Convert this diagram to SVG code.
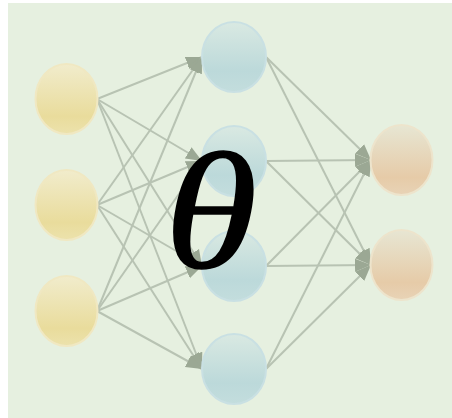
<svg xmlns="http://www.w3.org/2000/svg" width="452" height="418" viewBox="0 0 452 418">
<defs>
<linearGradient id="gIn" x1="0" y1="0" x2="0" y2="1"><stop offset="0" stop-color="#f1eccc"/><stop offset="0.75" stop-color="#e9dc9c"/><stop offset="1" stop-color="#ece2ac"/></linearGradient>
<linearGradient id="gHid" x1="0" y1="0" x2="0" y2="1"><stop offset="0" stop-color="#d9e9e2"/><stop offset="0.7" stop-color="#bcd9da"/><stop offset="1" stop-color="#c3dddd"/></linearGradient>
<linearGradient id="gOut" x1="0" y1="0" x2="0" y2="1"><stop offset="0" stop-color="#e7e6d3"/><stop offset="0.75" stop-color="#e6cba8"/><stop offset="1" stop-color="#e8d3b6"/></linearGradient>
<marker id="ah" markerUnits="userSpaceOnUse" markerWidth="17" markerHeight="14" refX="16" refY="7" orient="auto"><path d="M0,0.5 L16,7 L0,13.5 z" fill="#9ba894"/></marker>
</defs>
<style>
.e{stroke:#b8c3b3;stroke-width:2;fill:none;marker-end:url(#ah)}
.in{fill:url(#gIn);stroke:#f0e8c2;stroke-width:2}
.hid{fill:url(#gHid);stroke:#c9e0e3;stroke-width:2}
.out{fill:url(#gOut);stroke:#ede4cc;stroke-width:2}
</style>
<rect x="8" y="3" width="444" height="415" fill="#e6f0e0"/>
<g id="connectors">
<line class="e" x1="97" y1="99" x2="202" y2="57"/>
<line class="e" x1="97" y1="99" x2="202" y2="161"/>
<line class="e" x1="97" y1="99" x2="202" y2="266"/>
<line class="e" x1="97" y1="99" x2="202" y2="369"/>
<line class="e" x1="97" y1="205" x2="202" y2="57"/>
<line class="e" x1="97" y1="205" x2="202" y2="161"/>
<line class="e" x1="97" y1="205" x2="202" y2="266"/>
<line class="e" x1="97" y1="205" x2="202" y2="369"/>
<line class="e" x1="97" y1="311" x2="202" y2="57"/>
<line class="e" x1="97" y1="311" x2="202" y2="161"/>
<line class="e" x1="97" y1="311" x2="202" y2="266"/>
<line class="e" x1="97" y1="311" x2="202" y2="369"/>
<line class="e" x1="266" y1="57" x2="371" y2="160"/>
<line class="e" x1="266" y1="57" x2="371" y2="265"/>
<line class="e" x1="266" y1="161" x2="371" y2="160"/>
<line class="e" x1="266" y1="161" x2="371" y2="265"/>
<line class="e" x1="266" y1="266" x2="371" y2="160"/>
<line class="e" x1="266" y1="266" x2="371" y2="265"/>
<line class="e" x1="266" y1="369" x2="371" y2="160"/>
<line class="e" x1="266" y1="369" x2="371" y2="265"/>
</g>
<g id="in1"><ellipse class="in" cx="66.5" cy="99" rx="31" ry="35"/></g>
<g id="in2"><ellipse class="in" cx="66.5" cy="205" rx="31" ry="35"/></g>
<g id="in3"><ellipse class="in" cx="66.5" cy="311" rx="31" ry="35"/></g>
<g id="h1"><ellipse class="hid" cx="234" cy="57" rx="32" ry="35"/></g>
<g id="h2"><ellipse class="hid" cx="234" cy="161" rx="32" ry="35"/></g>
<g id="h3"><ellipse class="hid" cx="234" cy="266" rx="32" ry="35"/></g>
<g id="h4"><ellipse class="hid" cx="234" cy="369" rx="32" ry="35"/></g>
<g id="o1"><ellipse class="out" cx="401.5" cy="160" rx="31" ry="35"/></g>
<g id="o2"><ellipse class="out" cx="401.5" cy="265" rx="31" ry="35"/></g>
<g id="theta" transform="translate(211,0) scale(1.14,1) translate(-211,0)"><text x="211" y="267" text-anchor="middle" font-family="'Liberation Serif', serif" font-style="italic" font-size="165" fill="#000" stroke="#000" stroke-width="1.5">θ</text></g>
</svg>
